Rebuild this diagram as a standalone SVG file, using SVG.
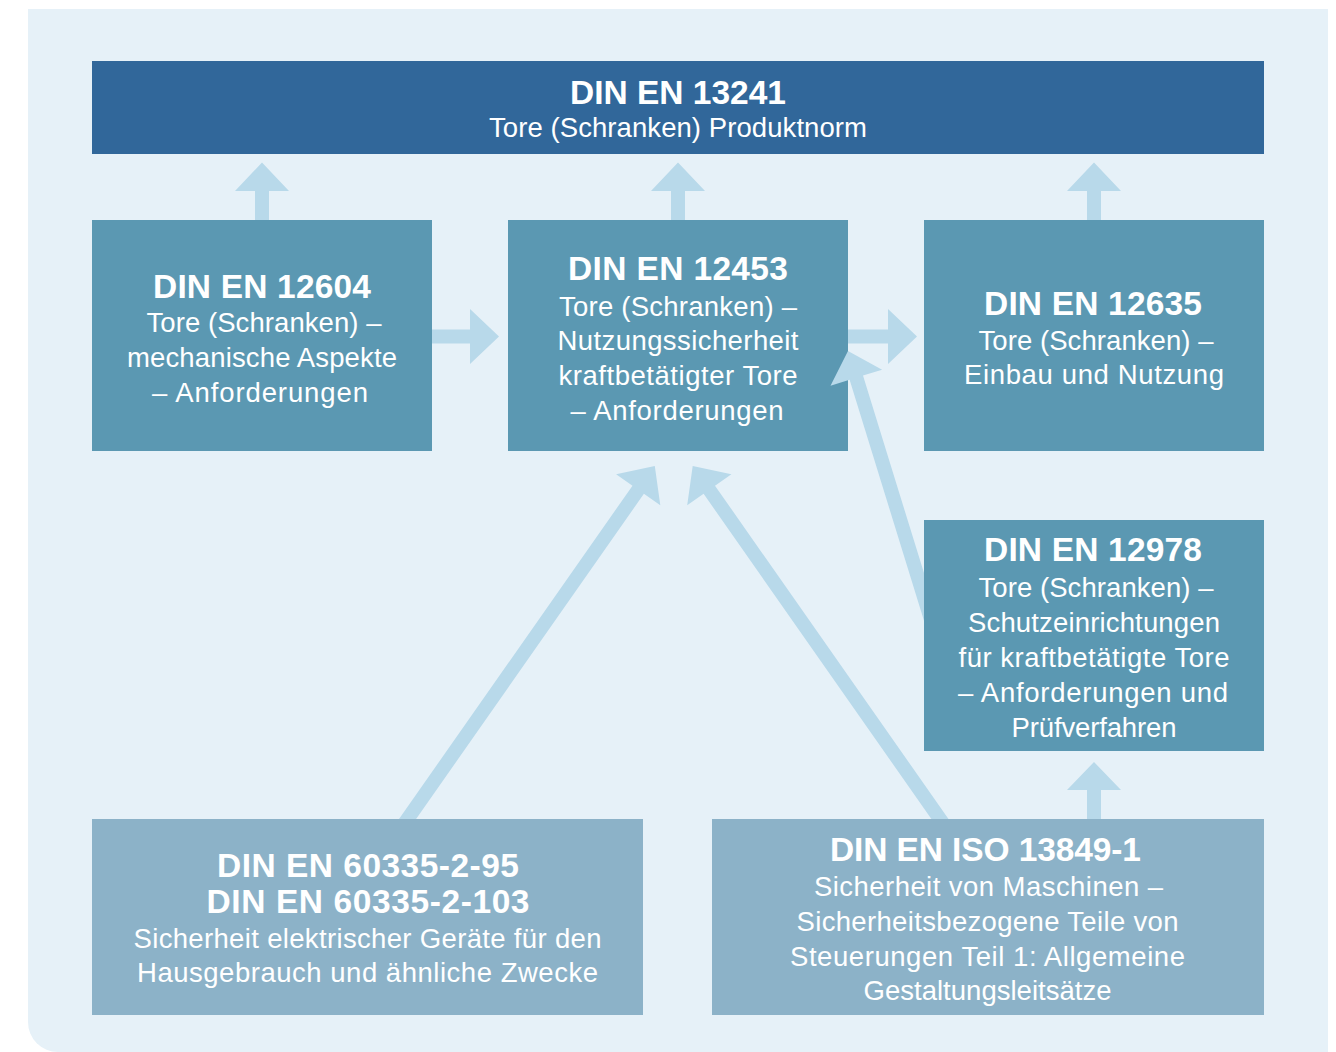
<svg xmlns="http://www.w3.org/2000/svg" width="1336" height="1052" viewBox="0 0 1336 1052">
<style>
.bg{fill:#E6F1F8}
.top{fill:#31679A}
.mid{fill:#5B98B2}
.low{fill:#8CB2C8}
.arr{fill:#B8D9EA}
text{fill:#FFFFFF;font-family:"Liberation Sans",Arial,sans-serif;text-anchor:middle}
.t{font-weight:bold;font-size:33.5px}
.b{font-size:27.5px}
</style>
<rect width="1336" height="1052" fill="#FFFFFF"/>
<path class="bg" d="M28,9 H1328 V1052 H58 A30,30 0 0 1 28,1022 Z"/>

<g id="node-13241">
<rect class="top" x="92" y="61" width="1172" height="93"/>
<text class="t" x="678" y="104" textLength="216">DIN EN 13241</text>
<text class="b" x="678" y="137" textLength="378">Tore (Schranken) Produktnorm</text>
</g>

<g id="node-12604">
<rect class="mid" x="92" y="220" width="340" height="231"/>
<text class="t" x="262" y="298" textLength="218">DIN EN 12604</text>
<text class="b" x="264" y="331.5" textLength="235">Tore (Schranken) –</text>
<text class="b" x="262" y="366.5" textLength="270">mechanische Aspekte</text>
<text class="b" x="260" y="401.5" textLength="216">– Anforderungen</text>
</g>

<g id="node-12453">
<rect class="mid" x="508" y="220" width="340" height="231"/>
<text class="t" x="678" y="280" textLength="220">DIN EN 12453</text>
<text class="b" x="678" y="315.5" textLength="238">Tore (Schranken) –</text>
<text class="b" x="678" y="350" textLength="241">Nutzungssicherheit</text>
<text class="b" x="678" y="385" textLength="239">kraftbetätigter Tore</text>
<text class="b" x="677" y="419.5" textLength="213">– Anforderungen</text>
</g>

<g id="node-12635">
<rect class="mid" x="924" y="220" width="340" height="231"/>
<text class="t" x="1093" y="315" textLength="218">DIN EN 12635</text>
<text class="b" x="1096" y="350" textLength="235">Tore (Schranken) –</text>
<text class="b" x="1094" y="384" textLength="260">Einbau und Nutzung</text>
</g>

<g id="node-12978">
<rect class="mid" x="924" y="520" width="340" height="231"/>
<text class="t" x="1093" y="561" textLength="218">DIN EN 12978</text>
<text class="b" x="1096" y="596.5" textLength="235">Tore (Schranken) –</text>
<text class="b" x="1094" y="631.5" textLength="252">Schutzeinrichtungen</text>
<text class="b" x="1094" y="666.5" textLength="271">für kraftbetätigte Tore</text>
<text class="b" x="1093" y="701.5" textLength="270">– Anforderungen und</text>
<text class="b" x="1094" y="736.5" textLength="165">Prüfverfahren</text>
</g>

<g id="node-60335">
<rect class="low" x="92" y="819" width="551" height="196"/>
<text class="t" x="368" y="877" textLength="302">DIN EN 60335-2-95</text>
<text class="t" x="368" y="913" textLength="323">DIN EN 60335-2-103</text>
<text class="b" x="367.5" y="948" textLength="468">Sicherheit elektrischer Geräte für den</text>
<text class="b" x="367.5" y="982" textLength="461">Hausgebrauch und ähnliche Zwecke</text>
</g>

<g id="node-13849">
<rect class="low" x="712" y="819" width="552" height="196"/>
<text class="t" x="985.5" y="861" textLength="311">DIN EN ISO 13849-1</text>
<text class="b" x="988.5" y="896" textLength="349">Sicherheit von Maschinen –</text>
<text class="b" x="987.5" y="931" textLength="382">Sicherheitsbezogene Teile von</text>
<text class="b" x="987.5" y="965.5" textLength="395">Steuerungen Teil 1: Allgemeine</text>
<text class="b" x="987.5" y="1000" textLength="248">Gestaltungsleitsätze</text>
</g>

<g id="connectors">
<polygon class="arr" points="262,162.5 289,191 269,191 269,220 255,220 255,191 235,191"/>
<polygon class="arr" points="678,162.5 705,191 685,191 685,220 671,220 671,191 651,191"/>
<polygon class="arr" points="1094,162.5 1121,191 1101,191 1101,220 1087,220 1087,191 1067,191"/>
<polygon class="arr" points="1094,762 1121,790 1101,790 1101,819 1087,819 1087,790 1067,790"/>
<polygon class="arr" points="432,329.5 470,329.5 470,309 499,336.5 470,364 470,343.5 432,343.5"/>
<polygon class="arr" points="848,329.5 888,329.5 888,309 917,336.5 888,364 888,343.5 848,343.5"/>
<polygon class="arr" points="848,351 882.1,369.7 863,375.6 924,573.1 924,620.7 849.6,379.8 830.5,385.7"/>
<polygon class="arr" points="654.8,466 660.3,505.2 643.9,493.8 416.1,819 399,819 632.5,485.7 616.1,474.3"/>
<polygon class="arr" points="692.7,466 687.2,505.2 703.6,493.8 931.4,819 948.5,819 715,485.7 731.4,474.3"/>
</g>
</svg>
